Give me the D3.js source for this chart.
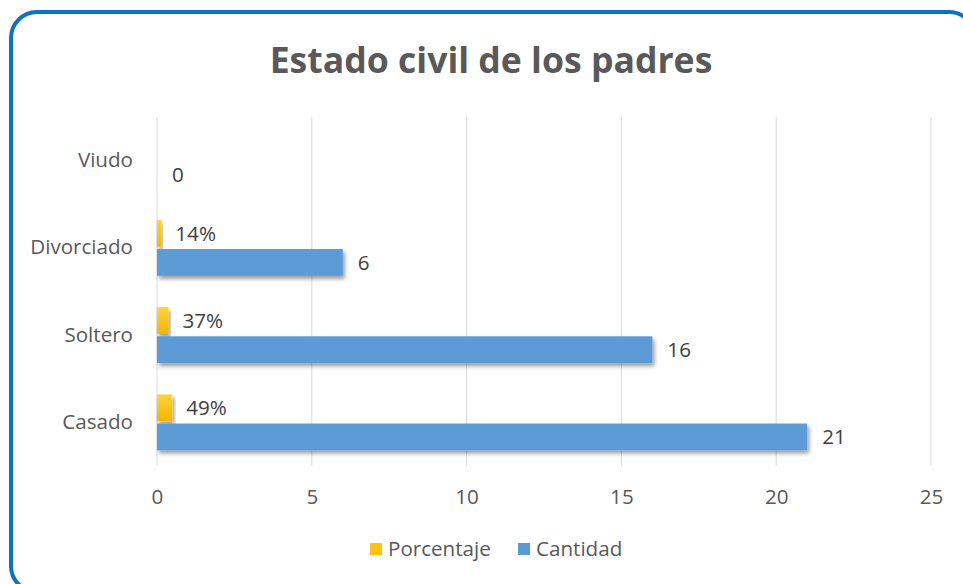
<!DOCTYPE html>
<html>
<head>
<meta charset="utf-8">
<script src="https://cdn.jsdelivr.net/npm/d3@7"></script>
<style>
  body { margin: 0; background: #fff; }
  svg { display: block; }
  text { font-family: "Open Sans", "Noto Sans", sans-serif; }
</style>
</head>
<body>
<div id="chart"></div>
<script>
// Chart data.
const categories = ["Casado", "Soltero", "Divorciado", "Viudo"];
const cantidad = [21, 16, 6, 0];
const porcentaje = [0.49, 0.37, 0.14, null];
const seriesNames = ["Porcentaje", "Cantidad"];
const xTicks = [0, 5, 10, 15, 20, 25];

const width = 963, height = 584;
const fontSize = 20.6;
const svg = d3.select("#chart").append("svg")
  .attr("width", width)
  .attr("height", height);

// Shadow and gradient definitions.
const defs = svg.append("defs");
const shadow = defs.append("filter").attr("id", "shadow")
  .attr("x", "-10%").attr("y", "-30%").attr("width", "130%").attr("height", "190%");
shadow.append("feDropShadow")
  .attr("dx", 2).attr("dy", 3).attr("stdDeviation", 2)
  .attr("flood-color", "#000").attr("flood-opacity", 0.4);
const grad = defs.append("linearGradient").attr("id", "gold")
  .attr("x1", 0).attr("y1", 0).attr("x2", 0).attr("y2", 1);
grad.append("stop").attr("offset", "0%").attr("stop-color", "#FFD338");
grad.append("stop").attr("offset", "100%").attr("stop-color", "#F2B700");

// Outer frame.
svg.append("rect")
  .attr("x", 11).attr("y", 12)
  .attr("width", 964).attr("height", 580)
  .attr("rx", 26)
  .attr("fill", "#fff")
  .attr("stroke", "#0B72C4")
  .attr("stroke-width", 4);

// Title.
svg.append("text")
  .attr("x", 491).attr("y", 73)
  .attr("text-anchor", "middle")
  .attr("font-size", 35.6).attr("font-weight", "bold")
  .attr("fill", "#595959")
  .text("Estado civil de los padres");

// Scales.
const x = d3.scaleLinear().domain([0, 25]).range([157, 931]);
const y = d3.scaleBand().domain(categories.slice().reverse())
  .range([117, 466]).paddingInner(0.36).paddingOuter(0.18);
const ySub = d3.scaleBand().domain(seriesNames)
  .range([0, y.bandwidth()]).paddingInner(0.08);

// Gridlines.
svg.append("g").selectAll("line")
  .data(xTicks)
  .enter().append("line")
  .attr("x1", d => x(d)).attr("x2", d => x(d))
  .attr("y1", 117).attr("y2", 466)
  .attr("stroke", "#d9d9d9").attr("stroke-width", 1);

// X axis labels.
const xAxis = svg.append("g")
  .attr("transform", "translate(0,466)")
  .call(d3.axisBottom(x).tickValues(xTicks).tickSize(0).tickPadding(23));
xAxis.select(".domain").remove();
xAxis.selectAll("text")
  .attr("font-size", fontSize).attr("fill", "#595959")
  .style("font-family", "\"Open Sans\", \"Noto Sans\", sans-serif");

// Y axis labels.
const yAxis = svg.append("g")
  .attr("transform", "translate(157,0)")
  .call(d3.axisLeft(y).tickSize(0).tickPadding(24));
yAxis.select(".domain").remove();
yAxis.selectAll("text")
  .attr("font-size", fontSize).attr("fill", "#595959")
  .style("font-family", "\"Open Sans\", \"Noto Sans\", sans-serif");

// Rows of bars.
const rows = categories.map((c, i) => ({ cat: c, cant: cantidad[i], pct: porcentaje[i] }));

// Porcentaje bars (plotted on same axis, value as fraction).
const pctRows = rows.filter(d => d.pct !== null);
svg.append("g").selectAll("rect")
  .data(pctRows)
  .enter().append("rect")
  .attr("x", x(0))
  .attr("y", d => y(d.cat) + ySub("Porcentaje"))
  .attr("width", d => x(d.pct) - x(0))
  .attr("height", ySub.bandwidth())
  .attr("fill", "url(#gold)")
  .attr("filter", "url(#shadow)");

svg.append("g").selectAll("text")
  .data(pctRows)
  .enter().append("text")
  .attr("x", d => x(d.pct) + 14)
  .attr("y", d => y(d.cat) + ySub("Porcentaje") + ySub.bandwidth() / 2)
  .attr("dy", "0.35em")
  .attr("font-size", fontSize).attr("fill", "#404040")
  .text(d => Math.round(d.pct * 100) + "%");

// Cantidad bars.
svg.append("g").selectAll("rect")
  .data(rows.filter(d => d.cant > 0))
  .enter().append("rect")
  .attr("x", x(0))
  .attr("y", d => y(d.cat) + ySub("Cantidad"))
  .attr("width", d => x(d.cant) - x(0))
  .attr("height", ySub.bandwidth())
  .attr("fill", "#5B9BD5")
  .attr("filter", "url(#shadow)");

svg.append("g").selectAll("text")
  .data(rows)
  .enter().append("text")
  .attr("x", d => x(d.cant) + 15)
  .attr("y", d => y(d.cat) + ySub("Cantidad") + ySub.bandwidth() / 2)
  .attr("dy", "0.35em")
  .attr("font-size", fontSize).attr("fill", "#404040")
  .text(d => d.cant);

// Legend.
const legendColors = { Porcentaje: "#FFC20E", Cantidad: "#5B9BD5" };
const legendX = [370, 518];
const legend = svg.append("g");
seriesNames.forEach((s, i) => {
  legend.append("rect")
    .attr("x", legendX[i]).attr("y", 543)
    .attr("width", 12).attr("height", 12)
    .attr("fill", legendColors[s]);
  legend.append("text")
    .attr("x", legendX[i] + 18).attr("y", 549)
    .attr("dy", "0.35em")
    .attr("font-size", fontSize).attr("fill", "#595959")
    .text(s);
});
</script>
</body>
</html>
